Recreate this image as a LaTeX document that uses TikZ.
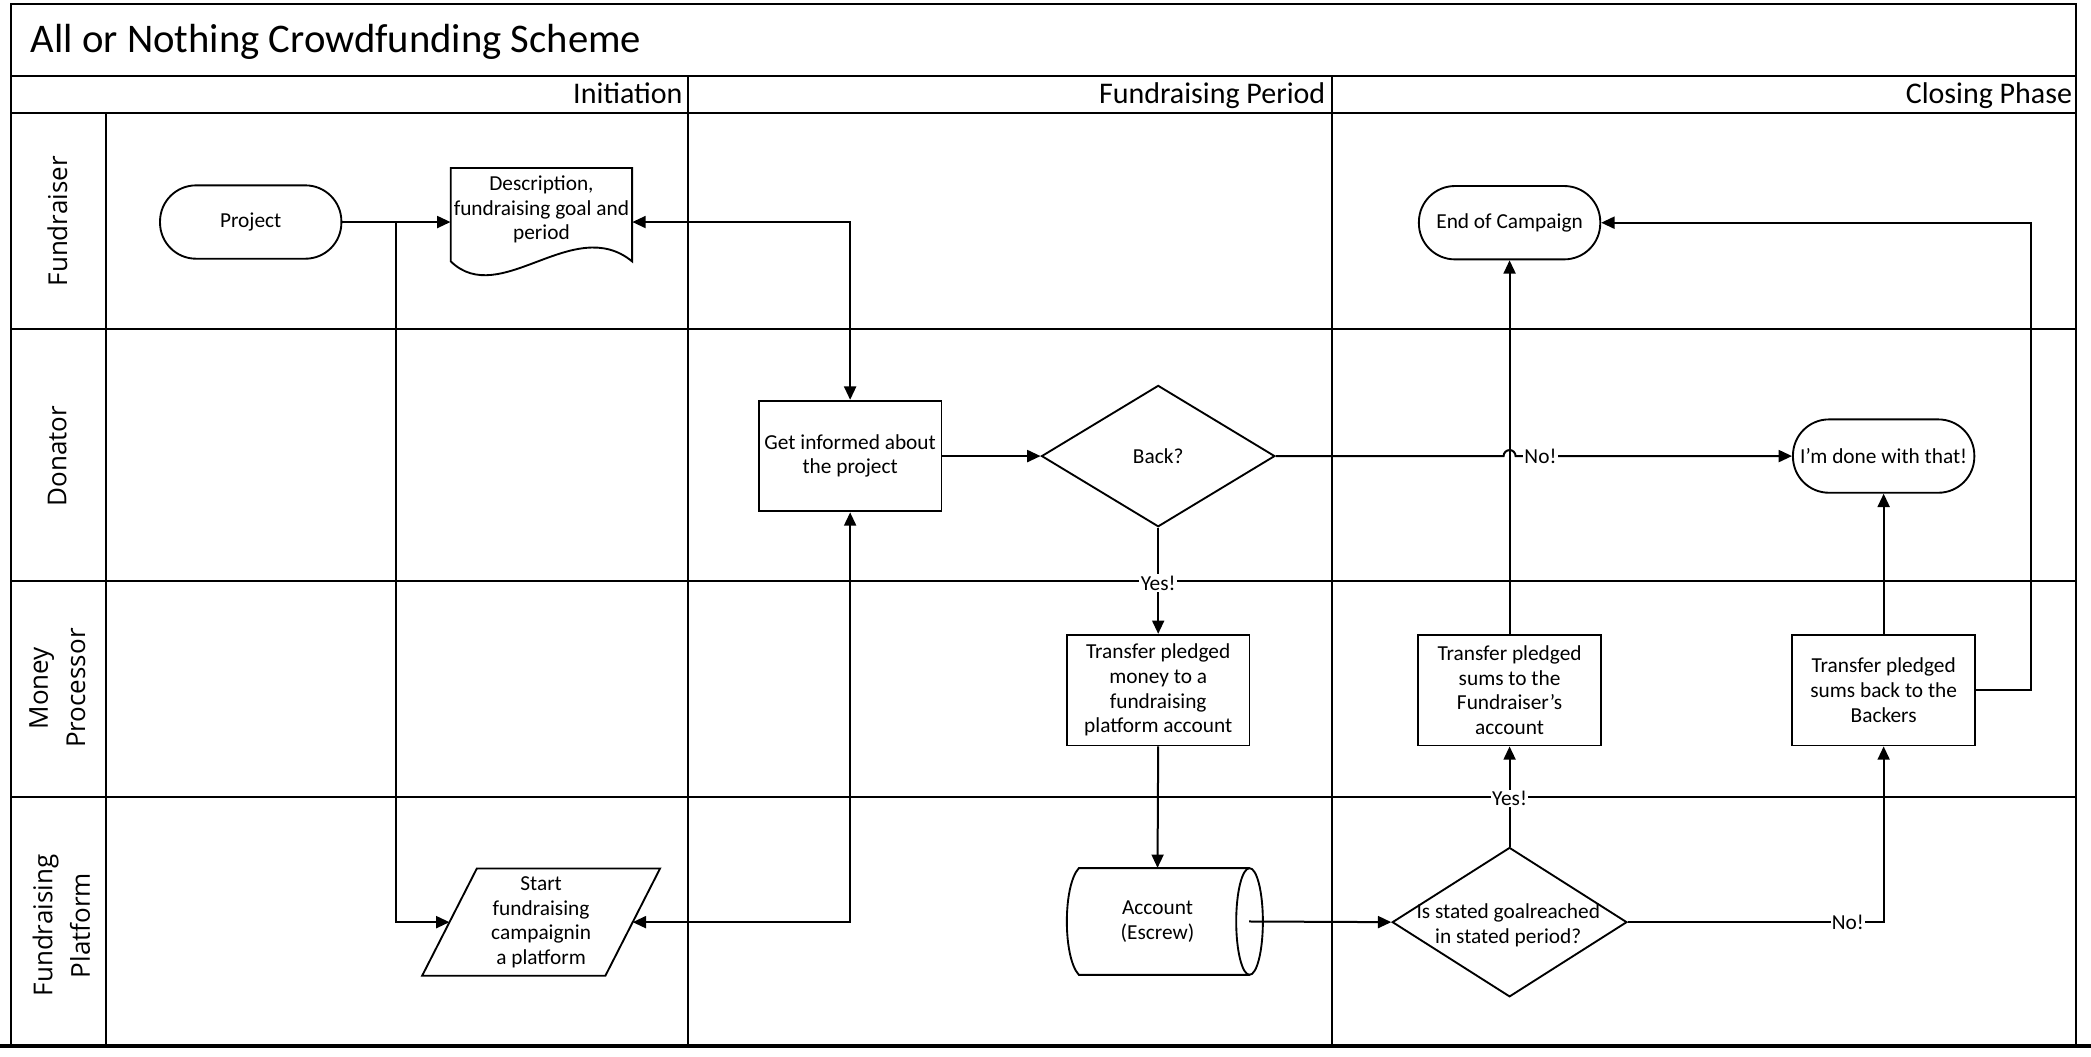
\documentclass[tikz,border=0pt]{standalone}
\usepackage{fontspec}
\setmainfont{Carlito}
\newfontfamily\lanefont{Open Sans}
\usetikzlibrary{shapes.geometric,arrows.meta,calc}
\begin{document}
\begin{tikzpicture}[x=1pt,y=-1pt,
  grid/.style={line width=1.5pt},
  tip/.tip={Triangle[length=10pt,width=9pt]},
  conn/.style={line width=1.5pt,-{Triangle[length=10pt,width=9pt]}},
  dconn/.style={line width=1.5pt,{Triangle[length=10pt,width=9pt]}-{Triangle[length=10pt,width=9pt]}},
  shp/.style={draw,line width=1.4pt},
  nodetext/.style={font=\fontsize{16}{18.5}\selectfont, align=center},
  procbox/.style={shp, nodetext, rectangle, minimum width=137pt, minimum height=83pt, inner sep=1pt},
  termbox/.style={shp, nodetext, rectangle, rounded corners=27pt, minimum width=136pt, minimum height=55pt, inner sep=1pt},
  decbox/.style={shp, diamond, inner sep=0pt},
  lbl/.style={nodetext, fill=white, inner sep=1pt},
  lanelbl/.style={font=\lanefont\fontsize{19.5}{28}\selectfont, rotate=90, align=center, inner sep=0pt},
  phaselbl/.style={font=\fontsize{22.5}{27}\selectfont, anchor=base east, inner sep=0pt},
]
\useasboundingbox (0,0) rectangle (1568,792);
\fill[white] (0,0) rectangle (1568,792);

% --- swimlane grid ---
\draw[grid] (8,3) rectangle (1557,784);
\draw[grid] (8,57) -- (1557,57);
\draw[grid] (8,85) -- (1557,85);
\draw[grid] (79.5,85) -- (79.5,784);
\draw[grid] (516,57) -- (516,784);
\draw[grid] (998.5,57) -- (998.5,784);
\draw[grid] (8,247) -- (1557,247);
\draw[grid] (8,435.5) -- (1557,435.5);
\draw[grid] (8,598) -- (1557,598);
\draw[line width=3pt] (0,784.5) -- (1568,784.5);

% --- title and headers ---
\node[anchor=base west, inner sep=0pt, font=\fontsize{30.5}{36}\selectfont] (title) at (23,39) {All or Nothing Crowdfunding Scheme};
\node[phaselbl] (ph1) at (512,77.5) {Initiation};
\node[phaselbl] (ph2) at (994,77.5) {Fundraising Period};
\node[phaselbl] (ph3) at (1554,77.5) {Closing Phase};

\node[lanelbl] (lfund) at (43,166) {Fundraiser};
\node[lanelbl] (ldon) at (43,342) {Donator};
\node[lanelbl] (lmon) at (43,516) {Money\\Processor};
\node[lanelbl] (lplat) at (46,694) {Fundraising\\Platform};

% --- nodes ---
\node[termbox] (proj) at (188,166.5) {Project};

\node[nodetext, inner sep=0pt, minimum width=136pt, minimum height=62pt] (doc) at (406,157) {Description,\\fundraising goal and\\period};
\draw[shp] (338,196) -- (338,126) -- (474,126) -- (474,196)
  .. controls (430,160) and (375,232) .. (338,196) -- cycle;

\node[nodetext, inner sep=0pt, minimum width=137pt, minimum height=80pt] (para) at (405.75,691.5) {Start\\fundraising\\campaignin\\a platform};
\draw[shp] ($(para.north west)+(20.5,0)$) -- ($(para.north east)+(20.5,0)$)
  -- ($(para.south east)+(-20.5,0)$) -- ($(para.south west)+(-20.5,0)$) -- cycle;

\node[procbox] (getinf) at (637.5,342) {Get informed about\\the project};
\node[decbox, nodetext, minimum width=175pt, minimum height=106pt] (back) at (868.5,342) {Back?};
\node[procbox] (money) at (868.5,517.5) {Transfer pledged\\money to a\\fundraising\\platform account};

\node[nodetext, inner sep=0pt, minimum width=137pt, minimum height=80pt] (acc) at (868,691) {Account\\(Escrew)};
\draw[shp] (937,651) -- (809,651) .. controls (797,664) and (797,718) .. (809,731) -- (937,731);
\draw[shp] (937,691) ellipse [x radius=10pt, y radius=40pt];

\node[decbox, minimum width=176pt, minimum height=112pt] (d2) at (1132,691.5) {};
\node[nodetext, inner sep=0pt] (d2t) at (1131,694) {Is stated goalreached\\in stated period?};

\node[procbox] (fund) at (1132,517.5) {Transfer pledged\\sums to the\\Fundraiser’s\\account};
\node[termbox] (endc) at (1132,167) {End of Campaign};
\node[procbox] (backb) at (1412.5,517.5) {Transfer pledged\\sums back to the\\Backers};
\node[termbox] (imdone) at (1412.5,342) {I’m done with that!};

% --- connectors ---
\draw[conn] (proj.east) -- (proj.east -| doc.west);
\draw[conn] (proj.east) -- ++(40.5,0) |- (para.west);
\draw[dconn] (proj.east -| doc.east) -| (getinf.north);
\draw[dconn] (getinf.south) |- (para.east);
\draw[conn] (getinf.east) -- (back.west);
\draw[conn] (back.south) -- node[lbl, pos=0.52] {Yes!} (money.north);
\draw[conn] (money.south) -- (acc.north);
\draw[conn] (acc.east) -- (d2.west);
\draw[conn] (d2.north) -- node[lbl, pos=0.48] {Yes!} (fund.south);
\draw[conn] (fund.north) -- (endc.south);
\draw[conn] (d2.east) -| node[lbl, pos=0.43] {No!} (backb.south);
\draw[conn] (backb.north) -- (imdone.south);
\draw[conn] (backb.east) -- ++(41,0) |- (endc.east);
\draw[conn] (back.east) -- ($(back.east -| fund.north)+(-4.5,0)$)
  arc[start angle=180, end angle=0, radius=4.5pt]
  -- node[lbl, pos=0.09] {No!} (imdone.west);
\end{tikzpicture}
\end{document}
